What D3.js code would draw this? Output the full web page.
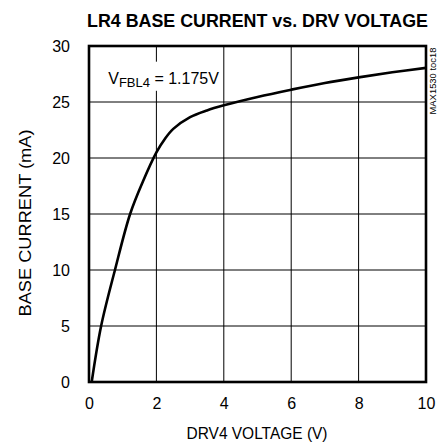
<!DOCTYPE html>
<html>
<head>
<meta charset="utf-8">
<script src="https://cdn.jsdelivr.net/npm/d3@7"></script>
<style>
  body { margin: 0; background: #fff; }
  text { font-family: "Liberation Sans Narrow", "Arial Narrow", "Liberation Sans", Arial, sans-serif; fill: #000; }
</style>
</head>
<body>
<div id="chartArea"></div>
<script>
// data
const voltage = [0.08, 0.36, 0.77, 1.22, 1.6, 2.0, 2.25, 2.5, 3.0, 3.5, 4.0, 5, 6, 7, 8, 9, 10];
const current = [0, 5, 10, 15, 17.9, 20.5, 21.7, 22.6, 23.65, 24.25, 24.7, 25.45, 26.1, 26.7, 27.2, 27.65, 28.05];
const xTicks = [0, 2, 4, 6, 8, 10];
const yTicks = [0, 5, 10, 15, 20, 25, 30];

const chart = {};
chart.margin = { top: 46, right: 22, bottom: 62, left: 89 };
chart.fullWidth = 448;
chart.fullHeight = 444;
chart.width = chart.fullWidth - chart.margin.left - chart.margin.right;
chart.height = chart.fullHeight - chart.margin.top - chart.margin.bottom;

const svgRoot = d3
  .select("#chartArea")
  .append("svg")
  .attr("width", chart.fullWidth)
  .attr("height", chart.fullHeight);

chart.svg = svgRoot
  .append("g")
  .attr("transform", "translate(" + chart.margin.left + "," + chart.margin.top + ")");

var x = d3.scaleLinear([0, 10], [0, chart.width]);
var y = d3.scaleLinear([0, 30], [chart.height, 0]);

// grid
chart.svg
  .append("g")
  .selectAll("line")
  .data(xTicks)
  .join("line")
  .attr("x1", (d) => x(d))
  .attr("x2", (d) => x(d))
  .attr("y1", 0)
  .attr("y2", chart.height)
  .attr("stroke", "#000")
  .attr("stroke-width", 1);
chart.svg
  .append("g")
  .selectAll("line")
  .data(yTicks)
  .join("line")
  .attr("x1", 0)
  .attr("x2", chart.width)
  .attr("y1", (d) => y(d))
  .attr("y2", (d) => y(d))
  .attr("stroke", "#000")
  .attr("stroke-width", 1);

// label with white box behind it
chart.svg
  .append("rect")
  .attr("x", x(0.33))
  .attr("y", y(28.6))
  .attr("width", x(3.75) - x(0.33))
  .attr("height", y(26.0) - y(28.6))
  .attr("fill", "#fff");
var note = chart.svg
  .append("text")
  .attr("x", x(0.57))
  .attr("y", y(26.6))
  .attr("font-size", 16);
note.append("tspan").text("V");
note.append("tspan").attr("font-size", 13).attr("dy", 3).text("FBL4");
note.append("tspan").attr("dy", -3).text(" = 1.175V");

// curve
const line = d3
  .line()
  .x((d, i) => x(voltage[i]))
  .y((d, i) => y(current[i]))
  .curve(d3.curveCatmullRom.alpha(0.5));
chart.svg
  .append("path")
  .datum(current)
  .attr("d", line)
  .attr("fill", "none")
  .attr("stroke", "#000")
  .attr("stroke-width", 2.6)
  .attr("stroke-linejoin", "round");

// frame
chart.svg
  .append("rect")
  .attr("width", chart.width)
  .attr("height", chart.height)
  .attr("fill", "none")
  .attr("stroke", "#000")
  .attr("stroke-width", 2.6);

// axes (labels only)
var xAxis = chart.svg
  .append("g")
  .attr("transform", "translate(0," + chart.height + ")")
  .call(d3.axisBottom(x).tickValues(xTicks).tickSize(0).tickPadding(16));
var yAxis = chart.svg
  .append("g")
  .call(d3.axisLeft(y).tickValues(yTicks).tickSize(0).tickPadding(19));
[xAxis, yAxis].forEach((a) => {
  a.select(".domain").remove();
  a.attr("font-family", null);
  a.selectAll("text").attr("font-size", 16);
});

// titles
svgRoot
  .append("text")
  .attr("x", 257.5)
  .attr("y", 27)
  .attr("text-anchor", "middle")
  .attr("font-size", 18.5)
  .attr("font-weight", "bold")
  .attr("textLength", 341)
  .attr("lengthAdjust", "spacingAndGlyphs")
  .text("LR4 BASE CURRENT vs. DRV VOLTAGE");
svgRoot
  .append("text")
  .attr("x", 257)
  .attr("y", 439)
  .attr("text-anchor", "middle")
  .attr("font-size", 16)
  .attr("textLength", 141)
  .attr("lengthAdjust", "spacingAndGlyphs")
  .text("DRV4 VOLTAGE (V)");
svgRoot
  .append("text")
  .attr("transform", "translate(31,223) rotate(-90)")
  .attr("text-anchor", "middle")
  .attr("font-size", 16)
  .attr("textLength", 187)
  .attr("lengthAdjust", "spacingAndGlyphs")
  .text("BASE CURRENT (mA)");
svgRoot
  .append("text")
  .attr("transform", "translate(436,81) rotate(-90)")
  .attr("text-anchor", "middle")
  .attr("font-size", 9)
  .attr("textLength", 67)
  .attr("lengthAdjust", "spacingAndGlyphs")
  .text("MAX1530 toc18");
</script>
</body>
</html>
